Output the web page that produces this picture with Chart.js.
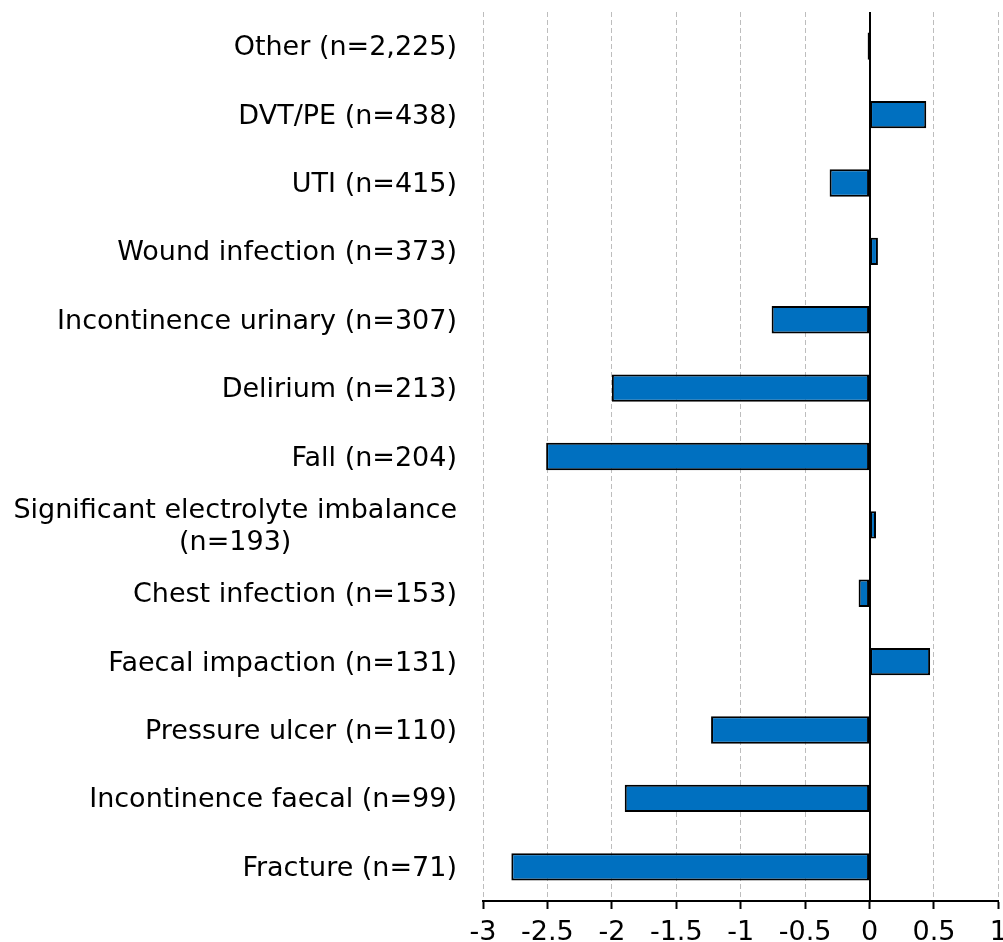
<!DOCTYPE html>
<html>
<head>
<meta charset="utf-8">
<script src="https://cdn.jsdelivr.net/npm/chart.js@4"></script>
<style>
  html, body { margin: 0; padding: 0; background: #fff; overflow: hidden; }
  #wrap { width: 1015px; height: 942px; position: relative; }
</style>
</head>
<body>
<div id="wrap"><canvas id="complications-chart"></canvas></div>
<script>
// Complication categories, top to bottom
const categories = [
    'Other (n=2,225)',
    'DVT/PE (n=438)',
    'UTI (n=415)',
    'Wound infection (n=373)',
    'Incontinence urinary (n=307)',
    'Delirium (n=213)',
    'Fall (n=204)',
    ['Significant electrolyte imbalance', '(n=193)'],
    'Chest infection (n=153)',
    'Faecal impaction (n=131)',
    'Pressure ulcer (n=110)',
    'Incontinence faecal (n=99)',
    'Fracture (n=71)'
];

const values = [-0.015, 0.44, -0.31, 0.065, -0.76, -2.0, -2.51, 0.05, -0.085, 0.47, -1.23, -1.9, -2.78];

const xMin = -3;
const xMax = 1;
const xStep = 0.5;

const FONT = 'DejaVu Sans';
const FONT_SIZE = 27;

// solid line at zero plus category labels (right aligned block, lines centred)
const extras = {
    id: 'extras',
    afterDatasetsDraw(chart) {
        const ctx = chart.ctx;
        const x = chart.scales.x;
        const y = chart.scales.y;
        const area = chart.chartArea;
        const zx = Math.round(x.getPixelForValue(0));
        ctx.save();
        ctx.strokeStyle = '#000';
        ctx.lineWidth = 2;
        ctx.beginPath();
        ctx.moveTo(zx, area.top);
        ctx.lineTo(zx, area.bottom);
        ctx.stroke();

        ctx.font = FONT_SIZE + 'px "' + FONT + '"';
        ctx.fillStyle = '#000';
        ctx.textBaseline = 'middle';
        ctx.textAlign = 'center';
        const right = area.left - 26;
        const lineH = 32;
        categories.forEach((label, i) => {
            const lines = Array.isArray(label) ? label : [label];
            const w = Math.max(...lines.map(l => ctx.measureText(l).width));
            const cx = right - w / 2;
            const cy = y.getPixelForValue(i) + 2;
            lines.forEach((l, j) => {
                ctx.fillText(l, cx, cy + (j - (lines.length - 1) / 2) * lineH);
            });
        });
        ctx.restore();
    }
};

document.addEventListener('DOMContentLoaded', () => {
    const ctx = document.getElementById('complications-chart').getContext('2d');
    new Chart(ctx, {
        type: 'bar',
        data: {
            labels: categories,
            datasets: [{
                data: values,
                backgroundColor: '#0070C0',
                borderColor: '#000',
                borderWidth: 2,
                borderSkipped: false,
                categoryPercentage: 1,
                barPercentage: 0.4
            }]
        },
        options: {
            indexAxis: 'y',
            responsive: true,
            maintainAspectRatio: false,
            animation: false,
            layout: { padding: { top: 12, left: 0, right: 0, bottom: 0 } },
            plugins: {
                legend: { display: false },
                tooltip: { enabled: false }
            },
            scales: {
                x: {
                    min: xMin,
                    max: xMax,
                    ticks: {
                        stepSize: xStep,
                        color: '#000',
                        font: { family: FONT, size: FONT_SIZE },
                        padding: 8,
                        maxRotation: 0,
                        callback: (v) => String(Math.round(v * 10) / 10)
                    },
                    grid: {
                        color: '#bdbdbd',
                        lineWidth: 1,
                        drawTicks: true,
                        tickLength: 8,
                        tickColor: '#000',
                        tickWidth: 2
                    },
                    border: {
                        display: true,
                        color: '#000',
                        width: 2,
                        dash: [5, 3]
                    },
                    afterFit: (scale) => { scale.height = 41; }
                },
                y: {
                    ticks: { display: false },
                    grid: { display: false },
                    border: { display: false },
                    afterFit: (scale) => { scale.width = 483; }
                }
            }
        },
        plugins: [extras]
    });
});
</script>
</body>
</html>
